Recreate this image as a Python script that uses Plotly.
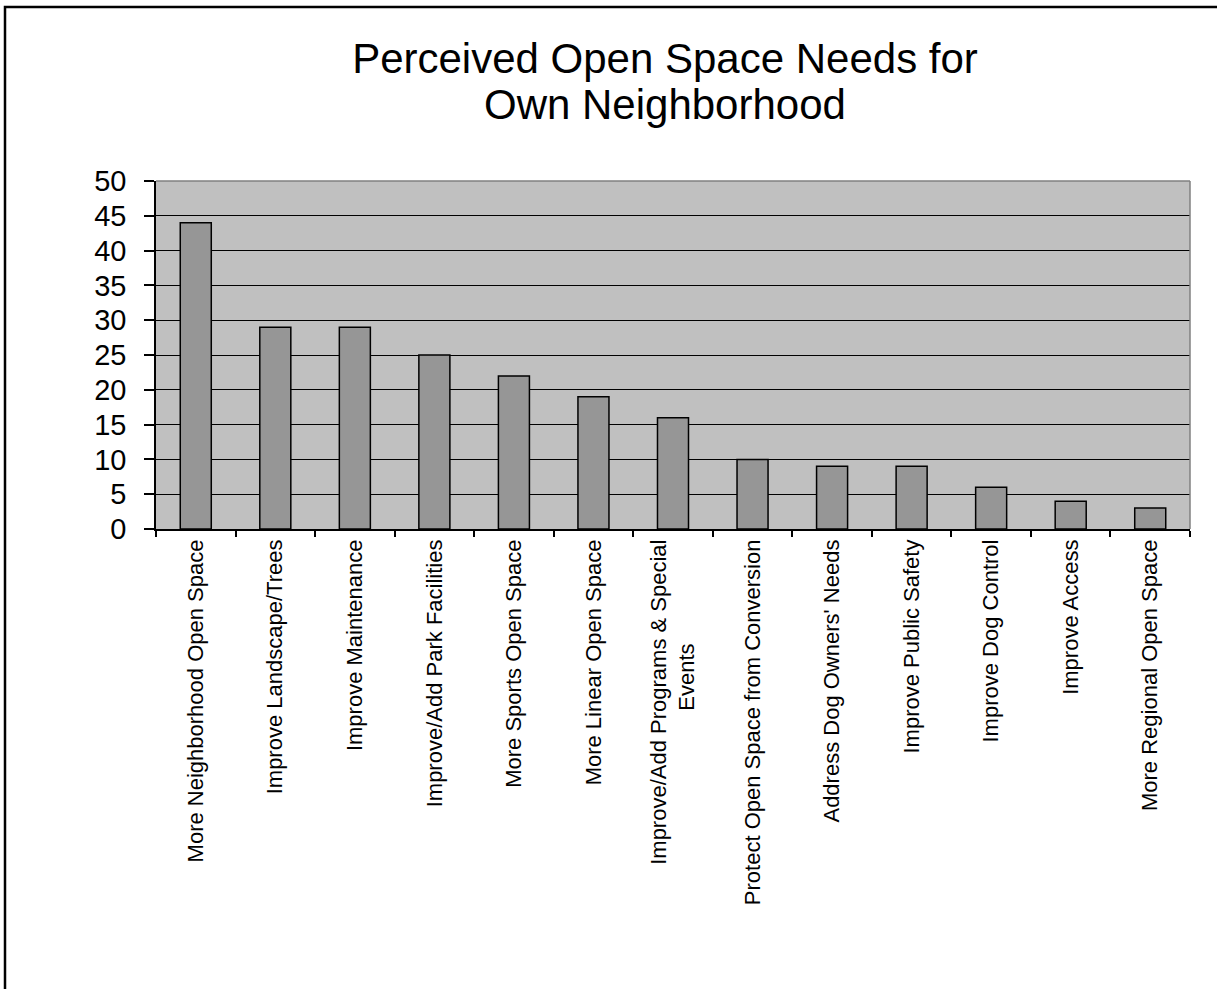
import plotly.graph_objects as go

title_line1 = "Perceived Open Space Needs for"
title_line2 = "Own Neighborhood"

categories = [
    "More Neighborhood Open Space",
    "Improve Landscape/Trees",
    "Improve Maintenance",
    "Improve/Add Park Facilities",
    "More Sports Open Space",
    "More Linear Open Space",
    "Improve/Add Programs & Special<br>Events" + "\u00a0" * 17,
    "Protect Open Space from Conversion",
    "Address Dog Owners' Needs",
    "Improve Public Safety",
    "Improve Dog Control",
    "Improve Access",
    "More Regional Open Space",
]
values = [44, 29, 29, 25, 22, 19, 16, 10, 9, 9, 6, 4, 3]
y_ticks = [0, 5, 10, 15, 20, 25, 30, 35, 40, 45, 50]

W, H = 1217, 989
L, R, T, B = 156, 1190, 181, 529  # plot area in px

def px_x(p):
    return (p - L) / (R - L)

def px_y(p):
    return (B - p) / (B - T)

FONT = "Liberation Sans, Arial, sans-serif"

fig = go.Figure(
    go.Bar(
        x=categories,
        y=values,
        marker=dict(color="#969696", line=dict(color="#000000", width=1.5)),
    )
)

fig.update_layout(
    width=W,
    height=H,
    margin=dict(l=L, r=W - R, t=T, b=H - B, autoexpand=False),
    paper_bgcolor="#ffffff",
    plot_bgcolor="#c0c0c0",
    bargap=0.61,
    showlegend=False,
    font=dict(family=FONT, color="#000000"),
    title=dict(
        text=title_line1,
        font=dict(family=FONT, size=42, color="#000000"),
        x=px_x(665),
        xref="paper",
        xanchor="center",
        y=1 - 44 / H,
        yref="container",
        yanchor="top",
    ),
    annotations=[
        dict(
            text=title_line2,
            font=dict(family=FONT, size=42, color="#000000"),
            xref="paper",
            yref="paper",
            x=px_x(665),
            y=px_y(104),
            xanchor="center",
            yanchor="middle",
            showarrow=False,
        )
    ],
    shapes=[
        dict(
            type="rect",
            xref="paper",
            yref="paper",
            x0=px_x(5),
            x1=px_x(1240),
            y0=px_y(1010),
            y1=px_y(7),
            line=dict(color="#000000", width=2.5),
            fillcolor="rgba(0,0,0,0)",
            layer="above",
        ),
        dict(
            type="line", xref="paper", yref="paper",
            x0=0, x1=1, y0=1, y1=1,
            line=dict(color="#808080", width=1.5),
        ),
        dict(
            type="line", xref="paper", yref="paper",
            x0=1, x1=1, y0=0, y1=1,
            line=dict(color="#808080", width=1.5),
        ),
    ],
)

fig.update_yaxes(
    range=[0, 50],
    tickvals=y_ticks,
    ticks="outside",
    ticklen=10,
    tickwidth=1.5,
    tickcolor="#000000",
    showline=True,
    linecolor="#000000",
    linewidth=1.5,
    showgrid=True,
    gridcolor="#000000",
    gridwidth=1,
    zeroline=False,
    tickfont=dict(family=FONT, size=29, color="#000000"),
    ticklabelstandoff=12,
)

fig.update_xaxes(
    type="category",
    tickangle=-90,
    ticks="outside",
    tickson="boundaries",
    ticklen=6,
    tickwidth=1.5,
    tickcolor="#000000",
    showline=True,
    linecolor="#000000",
    linewidth=1.5,
    showgrid=False,
    tickfont=dict(family=FONT, size=22, color="#000000"),
)

fig.write_html(
    "out.html",
    config={"displayModeBar": False},
    post_script="document.body.style.margin='0';",
)
